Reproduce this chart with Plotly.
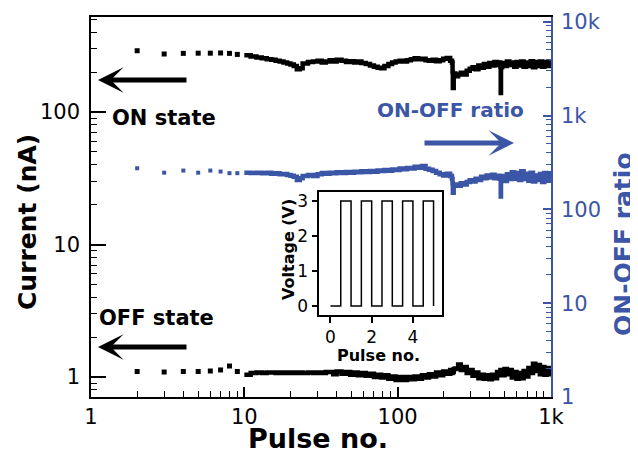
import plotly.graph_objects as go

# ---------------- data ----------------
pulse_sparse = [2, 3, 4, 5, 6, 7, 8, 9]
on_sparse = [290, 274, 277, 278, 278, 279, 277, 272]
off_sparse = [1.10, 1.09, 1.10, 1.10, 1.11, 1.13, 1.21, 1.10]
ratio_sparse = [274, 246, 259, 246, 259, 253, 243, 243]

pulse_dense = [10, 11, 12, 13, 14, 15, 16, 17, 18, 19,
               20, 21, 22, 23, 24, 26, 28, 30, 32, 34,
               36, 38, 40, 43, 46, 49, 52, 55, 58, 62,
               66, 70, 74, 78, 82, 87, 92, 97, 103, 109,
               115, 122, 129, 136, 144, 152, 160, 169, 178, 188,
               198, 209, 220, 226, 228, 229, 232, 238, 248, 258,
               270, 282, 295, 308, 322, 336, 350, 365, 380, 396,
               412, 428, 445, 462, 468, 470, 472, 480, 498, 516,
               535, 555, 575, 596, 618, 640, 663, 687, 712, 737,
               763, 790, 818, 846, 875, 905, 935, 966, 1000]

on_dense = [268, 262, 258, 255, 250, 248, 244, 240, 236, 232,
            228, 222, 210, 214, 232, 238, 241, 244, 236, 241,
            246, 240, 248, 244, 238, 242, 236, 240, 234, 230,
            224, 220, 216, 214, 222, 230, 236, 240, 244, 240,
            246, 250, 254, 250, 252, 246, 244, 248, 242, 246,
            252, 256, 244, 236, 200, 152, 195, 186, 192, 198,
            192, 205, 212, 218, 210, 224, 216, 230, 220, 234,
            224, 238, 226, 236, 220, 139, 218, 234, 222, 240,
            226, 236, 220, 238, 224, 240, 220, 236, 222, 242,
            218, 238, 222, 240, 220, 238, 222, 236, 226]

off_dense = [1.04, 1.07, 1.08, 1.07, 1.08, 1.08, 1.07, 1.08, 1.07, 1.08,
             1.07, 1.08, 1.07, 1.08, 1.07, 1.08, 1.07, 1.08, 1.07, 1.09,
             1.09, 1.05, 1.10, 1.06, 1.09, 1.04, 1.08, 1.03, 1.07, 1.02,
             1.06, 1.00, 1.04, 0.99, 1.03, 0.97, 1.01, 0.95, 1.00, 0.95,
             1.00, 0.96, 1.01, 0.97, 1.03, 0.99, 1.05, 1.01, 1.08, 1.03,
             1.10, 1.06, 1.13, 1.07, 1.10, 1.09, 1.15, 1.16, 1.24, 1.13,
             1.19, 1.07, 1.13, 1.02, 1.08, 0.98, 1.04, 0.97, 1.03, 0.96,
             1.04, 0.98, 1.09, 1.03, 1.13, 1.05, 1.11, 1.03, 1.15, 1.05,
             1.13, 0.99, 1.09, 0.97, 1.07, 0.98, 1.11, 1.01, 1.17, 1.07,
             1.26, 1.11, 1.23, 1.05, 1.19, 1.04, 1.17, 1.05, 1.13]

ratio_dense = [246, 244, 245, 243, 245, 240, 242, 236, 238, 232,
               228, 222, 206, 214, 226, 232, 226, 236, 244, 240,
               246, 242, 248, 244, 250, 246, 252, 248, 254, 250,
               256, 252, 260, 256, 262, 258, 266, 262, 272, 268,
               276, 272, 284, 278, 290, 270, 264, 256, 246, 236,
               230, 240, 226, 210, 190, 150, 180, 184, 178, 190,
               184, 196, 204, 198, 212, 206, 222, 214, 230, 218,
               234, 214, 228, 212, 220, 137, 206, 226, 200, 236,
               210, 248, 212, 244, 206, 254, 210, 240, 202, 246,
               198, 230, 206, 238, 196, 244, 202, 242, 208]

# inset: applied voltage pulses
inset_pulse = [0, 0.5, 1, 1.5, 2, 2.5, 3, 3.5, 4, 4.5, 5]
inset_voltage = [0, 3, 0, 3, 0, 3, 0, 3, 0, 3, 0]

x_ticks = [1, 10, 100, 1000]
x_ticktext = ['1', '10', '100', '1k']
left_ticks = [1, 10, 100]
left_ticktext = ['1', '10', '100']
right_ticks = [1, 10, 100, 1000, 10000]
right_ticktext = ['1', '10', '100', '1k', '10k']

# ---------------- styling ----------------
BLUE = '#3B56A6'
FONT = 'DejaVu Sans'
OFF = 8                      # browser default body margin
WIN_W, WIN_H = 638, 456
W, H = WIN_W - OFF, WIN_H - OFF
# plot area in window pixels: x 91..551, y 17..397
PL, PR, PT, PB = 91, 551, 17, 397
L, T = PL - OFF, PT - OFF
R, B = W - (PR - OFF), H - (PB - OFF)
PW, PH = PR - PL, PB - PT


def px(xp):
    return (xp - PL) / PW


def py(yp):
    return (PB - yp) / PH


x_minor = [m * 10 ** d for d in range(3) for m in range(2, 10)]
left_minor = [0.8, 0.9] + [m * 10 ** d for d in range(3) for m in range(2, 10)]
left_minor = [v for v in left_minor if v < 520]
right_minor = [m * 10 ** d for d in range(4) for m in range(2, 10)]

fig = go.Figure()

# ON state current
fig.add_trace(go.Scatter(x=pulse_sparse, y=on_sparse, mode='markers',
                         marker=dict(symbol='square', size=5, color='black'),
                         xaxis='x', yaxis='y', showlegend=False))
fig.add_trace(go.Scatter(x=pulse_dense, y=on_dense, mode='lines',
                         line=dict(color='black', width=4.5, shape='hv'),
                         xaxis='x', yaxis='y', showlegend=False))
# OFF state current
fig.add_trace(go.Scatter(x=pulse_sparse, y=off_sparse, mode='markers',
                         marker=dict(symbol='square', size=5, color='black'),
                         xaxis='x', yaxis='y', showlegend=False))
fig.add_trace(go.Scatter(x=pulse_dense, y=off_dense, mode='lines',
                         line=dict(color='black', width=4.5, shape='hv'),
                         xaxis='x', yaxis='y', showlegend=False))
# ON-OFF ratio
fig.add_trace(go.Scatter(x=pulse_sparse, y=ratio_sparse, mode='markers',
                         marker=dict(symbol='square', size=4, color=BLUE),
                         xaxis='x', yaxis='y2', showlegend=False))
fig.add_trace(go.Scatter(x=pulse_dense, y=ratio_dense, mode='lines',
                         line=dict(color=BLUE, width=4.5, shape='hv'),
                         xaxis='x', yaxis='y2', showlegend=False))
# inset
fig.add_trace(go.Scatter(x=inset_pulse, y=inset_voltage, mode='lines',
                         line=dict(color='black', width=1.5, shape='hv'),
                         xaxis='x2', yaxis='y3', showlegend=False))

tick_font = dict(family=FONT, size=21, color='black')

fig.update_layout(
    width=W, height=H,
    margin=dict(l=L, r=R, t=T, b=B, pad=0),
    paper_bgcolor='white', plot_bgcolor='white',
    showlegend=False,
    xaxis=dict(type='log', range=[0, 3], domain=[0, 1], anchor='y',
               showline=True, linecolor='black', linewidth=1.5, mirror=True,
               ticks='inside', ticklen=10, tickwidth=1.5, tickcolor='black',
               tickmode='array', tickvals=x_ticks, ticktext=x_ticktext,
               tickfont=tick_font, ticklabelstandoff=0,
               minor=dict(ticks='inside', ticklen=6, tickwidth=1.2, tickcolor='black',
                          tickmode='array', tickvals=x_minor, showgrid=False),
               showgrid=False, zeroline=False, automargin=False),
    yaxis=dict(type='log', range=[-0.151, 2.717], domain=[0, 1], anchor='x',
               showline=True, linecolor='black', linewidth=1.5,
               ticks='inside', ticklen=15, tickwidth=1.5, tickcolor='black',
               tickmode='array', tickvals=left_ticks, ticktext=left_ticktext,
               tickfont=tick_font, ticklabelstandoff=5,
               minor=dict(ticks='inside', ticklen=6, tickwidth=1.2, tickcolor='black',
                          tickmode='array', tickvals=left_minor, showgrid=False),
               showgrid=False, zeroline=False, automargin=False),
    yaxis2=dict(type='log', range=[0, 4.05], overlaying='y', side='right', anchor='x',
                showline=True, linecolor=BLUE, linewidth=1.5,
                ticks='inside', ticklen=8, tickwidth=1.5, tickcolor=BLUE,
                tickmode='array', tickvals=right_ticks, ticktext=right_ticktext,
                tickfont=dict(family=FONT, size=21, color=BLUE), ticklabelstandoff=4,
                minor=dict(ticks='inside', ticklen=5, tickwidth=1.2, tickcolor=BLUE,
                           tickmode='array', tickvals=right_minor, showgrid=False),
                showgrid=False, zeroline=False, automargin=False),
    xaxis2=dict(domain=[px(319.3), px(442)], anchor='y3', range=[-0.54, 5.41],
                showline=True, linecolor='black', linewidth=1.5, mirror=True,
                ticks='outside', ticklen=6, tickwidth=1.5, tickcolor='black',
                tickmode='array', tickvals=[0, 2, 4],
                tickfont=dict(family=FONT, size=17, color='black'),
                showgrid=False, zeroline=False, automargin=False),
    yaxis3=dict(domain=[py(315), py(191.7)], anchor='x2', range=[-0.257, 3.266],
                showline=True, linecolor='black', linewidth=1.5, mirror=True,
                ticks='outside', ticklen=6, tickwidth=1.5, tickcolor='black',
                tickmode='array', tickvals=[0, 1, 2, 3],
                tickfont=dict(family=FONT, size=17, color='black'),
                showgrid=False, zeroline=False, automargin=False),
)

bold = lambda size, color='black': dict(family=FONT, size=size, color=color)

annotations = [
    # axis titles
    dict(text='<b>Current (nA)</b>', x=px(27), y=py(222), textangle=-90,
         font=bold(25)),
    dict(text='<b>ON-OFF ratio</b>', x=px(623), y=py(244), textangle=-90,
         font=bold(25, BLUE)),
    dict(text='<b>Pulse no.</b>', x=px(318), y=py(439), font=bold(27)),
    # in-plot labels
    dict(text='<b>ON state</b>', x=px(110), y=py(118), xanchor='left', font=bold(21)),
    dict(text='<b>OFF state</b>', x=px(97), y=py(318), xanchor='left', font=bold(21)),
    dict(text='<b>ON-OFF ratio</b>', x=px(375), y=py(110), xanchor='left',
         font=bold(20, BLUE)),
    # inset titles
    dict(text='<b>Voltage (V)</b>', x=px(288), y=py(250), textangle=-90, font=bold(16)),
    dict(text='<b>Pulse no.</b>', x=px(378), y=py(355), font=bold(16)),
]
for a in annotations:
    a.update(xref='paper', yref='paper', showarrow=False)
    a.setdefault('xanchor', 'center')
    a.setdefault('yanchor', 'middle')

arrows = [
    dict(x=px(98), y=py(80), ax=90, ay=0, arrowcolor='black'),
    dict(x=px(98), y=py(347), ax=90, ay=0, arrowcolor='black'),
    dict(x=px(514), y=py(143), ax=-91, ay=0, arrowcolor=BLUE),
]
for a in arrows:
    a.update(xref='paper', yref='paper', text='', showarrow=True, arrowhead=3,
             arrowwidth=5, arrowsize=0.85, standoff=0, startstandoff=0)

fig.update_layout(annotations=annotations + arrows)

fig.write_html('out.html')
